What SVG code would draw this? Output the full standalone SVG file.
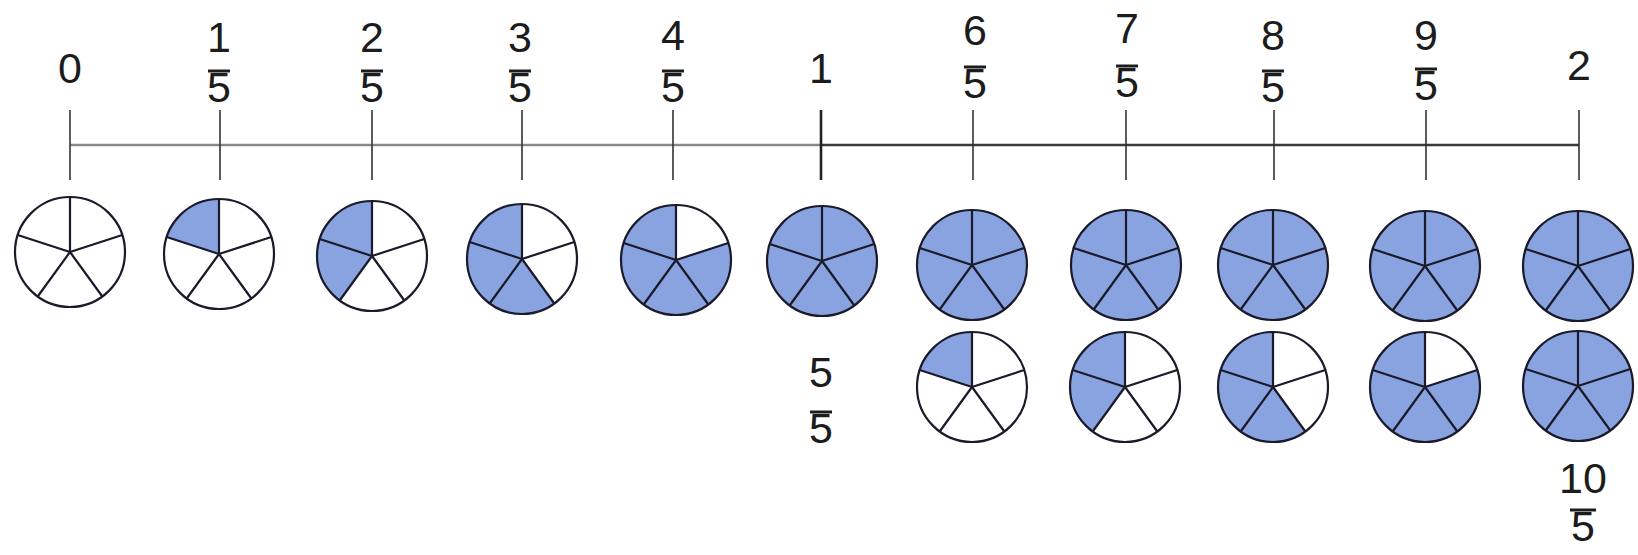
<svg xmlns="http://www.w3.org/2000/svg" xmlns:xlink="http://www.w3.org/1999/xlink" width="1638" height="555" viewBox="0 0 1638 555">
<style>
.lbl{font-family:"Liberation Sans",Arial,sans-serif;font-size:43px;fill:#1c1c1c;text-anchor:middle}
.bar{stroke:#1c1c1c;stroke-width:3}
.tick{stroke:#333;stroke-width:1.6}
.sh{fill:#89a3e0;stroke:none}
.outline{fill:none;stroke:#1a1a2a;stroke-width:2.2}
</style>
<defs>
<path id="s1" class="sh" d="M0,0 L-52.31,-17 A55,55 0 0 1 0,-55 Z"/>
<path id="s2" class="sh" d="M0,0 L-32.33,44.5 A55,55 0 0 1 0,-55 Z"/>
<path id="s3" class="sh" d="M0,0 L32.33,44.5 A55,55 0 1 1 0,-55 Z"/>
<path id="s4" class="sh" d="M0,0 L52.31,-17 A55,55 0 1 1 0,-55 Z"/>
<circle id="s5" class="sh" r="55"/>
<g id="pie">
<circle class="outline" r="55"/>
<path class="outline" d="M0,0 L0,-55 M0,0 L52.31,-17 M0,0 L32.33,44.5 M0,0 L-32.33,44.5 M0,0 L-52.31,-17"/>
</g>
</defs>
<rect width="1638" height="555" fill="#ffffff"/>
<g id="connectors">
<line x1="70" y1="145" x2="821" y2="145" stroke="#8a8a8a" stroke-width="2.6"/>
<line x1="821" y1="145" x2="1579" y2="145" stroke="#3a3a3a" stroke-width="2.6"/>
<line class="tick" x1="70" y1="110" x2="70" y2="180"/>
<line class="tick" x1="220" y1="110" x2="220" y2="180"/>
<line class="tick" x1="372" y1="110" x2="372" y2="180"/>
<line class="tick" x1="522" y1="110" x2="522" y2="180"/>
<line class="tick" x1="673" y1="110" x2="673" y2="180"/>
<line x1="821" y1="110" x2="821" y2="180" stroke="#222" stroke-width="2.6"/>
<line class="tick" x1="973" y1="110" x2="973" y2="180"/>
<line class="tick" x1="1126" y1="110" x2="1126" y2="180"/>
<line class="tick" x1="1274" y1="110" x2="1274" y2="180"/>
<line class="tick" x1="1426" y1="110" x2="1426" y2="180"/>
<line class="tick" x1="1579" y1="110" x2="1579" y2="180"/>
</g>
<g id="label-0"><text class="lbl" x="70" y="83">0</text></g>
<g id="label-1-5"><text class="lbl" x="219" y="52">1</text><line class="bar" x1="208" y1="71" x2="230" y2="71"/><text class="lbl" x="219" y="102">5</text></g>
<g id="label-2-5"><text class="lbl" x="372" y="52">2</text><line class="bar" x1="361" y1="71" x2="383" y2="71"/><text class="lbl" x="372" y="102">5</text></g>
<g id="label-3-5"><text class="lbl" x="520" y="52">3</text><line class="bar" x1="509" y1="71" x2="531" y2="71"/><text class="lbl" x="520" y="102">5</text></g>
<g id="label-4-5"><text class="lbl" x="673" y="50">4</text><line class="bar" x1="662" y1="71" x2="684" y2="71"/><text class="lbl" x="673" y="102">5</text></g>
<g id="label-1"><text class="lbl" x="821" y="83">1</text></g>
<g id="label-6-5"><text class="lbl" x="975" y="45">6</text><line class="bar" x1="964" y1="67" x2="986" y2="67"/><text class="lbl" x="975" y="98">5</text></g>
<g id="label-7-5"><text class="lbl" x="1127" y="43">7</text><line class="bar" x1="1116" y1="66" x2="1138" y2="66"/><text class="lbl" x="1127" y="97">5</text></g>
<g id="label-8-5"><text class="lbl" x="1273" y="50">8</text><line class="bar" x1="1262" y1="71" x2="1284" y2="71"/><text class="lbl" x="1273" y="102">5</text></g>
<g id="label-9-5"><text class="lbl" x="1426" y="50">9</text><line class="bar" x1="1415" y1="69" x2="1437" y2="69"/><text class="lbl" x="1426" y="100">5</text></g>
<g id="label-2"><text class="lbl" x="1579" y="80">2</text></g>
<g id="label-5-5"><text class="lbl" x="821" y="387">5</text><line class="bar" x1="810" y1="412" x2="832" y2="412"/><text class="lbl" x="821" y="443">5</text></g>
<g id="label-10-5"><text class="lbl" x="1583" y="493">10</text><line class="bar" x1="1570" y1="510" x2="1596" y2="510"/><text class="lbl" x="1583" y="541">5</text></g>
<g id="pie-0" transform="translate(70,252)"><use href="#pie" xlink:href="#pie"/></g>
<g id="pie-1-5" transform="translate(219,254)"><use href="#s1" xlink:href="#s1"/><use href="#pie" xlink:href="#pie"/></g>
<g id="pie-2-5" transform="translate(372,256)"><use href="#s2" xlink:href="#s2"/><use href="#pie" xlink:href="#pie"/></g>
<g id="pie-3-5" transform="translate(522,259)"><use href="#s3" xlink:href="#s3"/><use href="#pie" xlink:href="#pie"/></g>
<g id="pie-4-5" transform="translate(676,260)"><use href="#s4" xlink:href="#s4"/><use href="#pie" xlink:href="#pie"/></g>
<g id="pie-5-5" transform="translate(822,261)"><use href="#s5" xlink:href="#s5"/><use href="#pie" xlink:href="#pie"/></g>
<g id="pie-6-5-a" transform="translate(972,265)"><use href="#s5" xlink:href="#s5"/><use href="#pie" xlink:href="#pie"/></g>
<g id="pie-7-5-a" transform="translate(1126,265)"><use href="#s5" xlink:href="#s5"/><use href="#pie" xlink:href="#pie"/></g>
<g id="pie-8-5-a" transform="translate(1273,265)"><use href="#s5" xlink:href="#s5"/><use href="#pie" xlink:href="#pie"/></g>
<g id="pie-9-5-a" transform="translate(1425,266)"><use href="#s5" xlink:href="#s5"/><use href="#pie" xlink:href="#pie"/></g>
<g id="pie-10-5-a" transform="translate(1578,266)"><use href="#s5" xlink:href="#s5"/><use href="#pie" xlink:href="#pie"/></g>
<g id="pie-6-5-b" transform="translate(972,387)"><use href="#s1" xlink:href="#s1"/><use href="#pie" xlink:href="#pie"/></g>
<g id="pie-7-5-b" transform="translate(1125,387)"><use href="#s2" xlink:href="#s2"/><use href="#pie" xlink:href="#pie"/></g>
<g id="pie-8-5-b" transform="translate(1273,387)"><use href="#s3" xlink:href="#s3"/><use href="#pie" xlink:href="#pie"/></g>
<g id="pie-9-5-b" transform="translate(1425,387)"><use href="#s4" xlink:href="#s4"/><use href="#pie" xlink:href="#pie"/></g>
<g id="pie-10-5-b" transform="translate(1578,386)"><use href="#s5" xlink:href="#s5"/><use href="#pie" xlink:href="#pie"/></g>
</svg>
